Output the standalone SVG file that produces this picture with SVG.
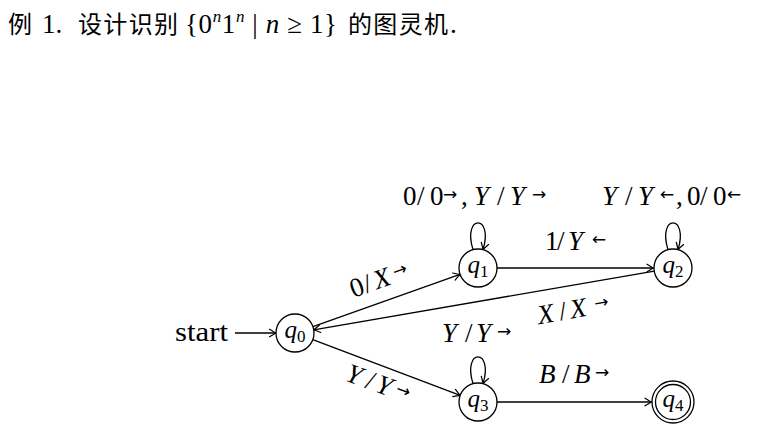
<svg xmlns="http://www.w3.org/2000/svg" width="771" height="444" viewBox="0 0 771 444">
<style>
  .cjk { font-family: "Noto Sans CJK SC", "Noto Sans CJK JP", sans-serif; font-size: 24px; fill: #000; }
  .tm { font-family: "Liberation Serif", "DejaVu Serif", serif; font-size: 27px; fill: #000; }
  .lb { font-family: "Liberation Serif", "DejaVu Serif", serif; font-size: 27px; fill: #000; }
  .it { font-style: italic; }
  .ar { font-family: "DejaVu Sans", sans-serif; font-size: 17px; }
  .sup { font-size: 17px; font-style: italic; }
  .nl { font-family: "Liberation Serif", "DejaVu Serif", serif; font-size: 25px; fill: #000; }
  .sub { font-size: 17px; font-style: normal; }
  .node circle { fill: #fff; stroke: #000; stroke-width: 1.3; }
  .edge { fill: none; stroke: #000; stroke-width: 1.3; marker-end: url(#ah); }
</style>
<defs>
  <marker id="ah" viewBox="-8 -5 10 10" refX="0" refY="0" markerWidth="10" markerHeight="10" markerUnits="userSpaceOnUse" orient="auto">
    <path d="M-6.5,-3.8 Q-1.8,-0.9 0,0 Q-1.8,0.9 -6.5,3.8" fill="none" stroke="#000" stroke-width="1.2" stroke-linecap="round"/>
  </marker>
</defs>

<g id="title">
  <text class="cjk" x="8" y="33">例</text>
  <text class="tm" x="42" y="33">1.</text>
  <text class="cjk" x="78" y="33" textLength="100" lengthAdjust="spacing">设计识别</text>
  <text class="tm" x="185" y="33" textLength="152" lengthAdjust="spacing">{0<tspan class="sup" dy="-11">n</tspan><tspan dy="11">1</tspan><tspan class="sup" dy="-11">n</tspan><tspan dy="11"> | </tspan><tspan class="it">n</tspan> ≥ 1}</text>
  <text class="cjk" x="348" y="33" textLength="100" lengthAdjust="spacing">的图灵机</text>
  <text class="tm" x="450" y="33">.</text>
</g>

<g id="connectors">
  <line class="edge" x1="235" y1="333" x2="276" y2="333"/>
  <line class="edge" x1="313" y1="326.6" x2="460" y2="274.4"/>
  <line class="edge" x1="654.3" y1="271.2" x2="313.7" y2="329.8"/>
  <line class="edge" x1="497" y1="268" x2="653.5" y2="268"/>
  <line class="edge" x1="312.8" y1="339.7" x2="460.2" y2="395.3"/>
  <line class="edge" x1="497" y1="402" x2="651.5" y2="402"/>
  <path class="edge" d="M473,249.6 C462,214 494,214 483,249.6"/>
  <path class="edge" d="M668,249.6 C657,214 689,214 678,249.6"/>
  <path class="edge" d="M473,383.6 C462,348 494,348 483,383.6"/>
</g>

<g id="labels">
  <text class="lb" x="175" y="341" textLength="53" lengthAdjust="spacingAndGlyphs">start</text>
  <text class="lb"><tspan x="403" y="205">0</tspan><tspan x="417" y="205">/</tspan><tspan x="430" y="205">0</tspan><tspan class="ar" x="443" y="200">→</tspan><tspan x="461" y="205">,</tspan><tspan class="it" x="474" y="205">Y</tspan><tspan x="497" y="205">/</tspan><tspan class="it" x="510" y="205">Y</tspan><tspan class="ar" x="532" y="200">→</tspan></text>
  <text class="lb"><tspan class="it" x="602" y="205">Y</tspan><tspan x="625" y="205">/</tspan><tspan class="it" x="638" y="205">Y</tspan><tspan class="ar" x="660" y="200">←</tspan><tspan x="676" y="205">,</tspan><tspan x="687" y="205">0</tspan><tspan x="700" y="205">/</tspan><tspan x="713" y="205">0</tspan><tspan class="ar" x="727" y="200">←</tspan></text>
  <text class="lb"><tspan x="545" y="250">1</tspan><tspan x="557" y="250">/</tspan><tspan class="it" x="568" y="250">Y</tspan><tspan class="ar" x="592" y="245">←</tspan></text>
  <text class="lb"><tspan class="it" x="442" y="342">Y</tspan><tspan x="465" y="342">/</tspan><tspan class="it" x="476" y="342">Y</tspan><tspan class="ar" x="497" y="337">→</tspan></text>
  <text class="lb"><tspan class="it" x="539" y="383">B</tspan><tspan x="562" y="383">/</tspan><tspan class="it" x="574" y="383">B</tspan><tspan class="ar" x="595" y="378">→</tspan></text>
  <g transform="translate(380,280) rotate(-20)">
    <text class="lb"><tspan x="-31" y="8">0</tspan><tspan x="-17" y="8">/</tspan><tspan class="it" x="-6" y="8">X</tspan><tspan class="ar" x="15" y="3">→</tspan></text>
  </g>
  <g transform="translate(574,310) rotate(-10)">
    <text class="lb"><tspan class="it" x="-37" y="8">X</tspan><tspan x="-15" y="8">/</tspan><tspan class="it" x="-4" y="8">X</tspan><tspan class="ar" x="21" y="3">→</tspan></text>
  </g>
  <g transform="translate(378,384) rotate(20)">
    <text class="lb"><tspan class="it" x="-33" y="8">Y</tspan><tspan x="-12" y="8">/</tspan><tspan class="it" x="-1" y="8">Y</tspan><tspan class="ar" x="19" y="3">→</tspan></text>
  </g>
</g>

<g id="q0" class="node">
  <circle cx="295" cy="333" r="19"/>
  <text class="nl" x="295" y="338" text-anchor="middle"><tspan class="it">q</tspan><tspan class="sub" dy="4">0</tspan></text>
</g>
<g id="q1" class="node">
  <circle cx="478" cy="268" r="19"/>
  <text class="nl" x="478" y="273" text-anchor="middle"><tspan class="it">q</tspan><tspan class="sub" dy="4">1</tspan></text>
</g>
<g id="q2" class="node">
  <circle cx="673" cy="268" r="19"/>
  <text class="nl" x="673" y="273" text-anchor="middle"><tspan class="it">q</tspan><tspan class="sub" dy="4">2</tspan></text>
</g>
<g id="q3" class="node">
  <circle cx="478" cy="402" r="19"/>
  <text class="nl" x="478" y="407" text-anchor="middle"><tspan class="it">q</tspan><tspan class="sub" dy="4">3</tspan></text>
</g>
<g id="q4" class="node">
  <circle cx="673" cy="402" r="21"/>
  <circle cx="673" cy="402" r="17.5"/>
  <text class="nl" x="673" y="407" text-anchor="middle"><tspan class="it">q</tspan><tspan class="sub" dy="4">4</tspan></text>
</g>
</svg>
